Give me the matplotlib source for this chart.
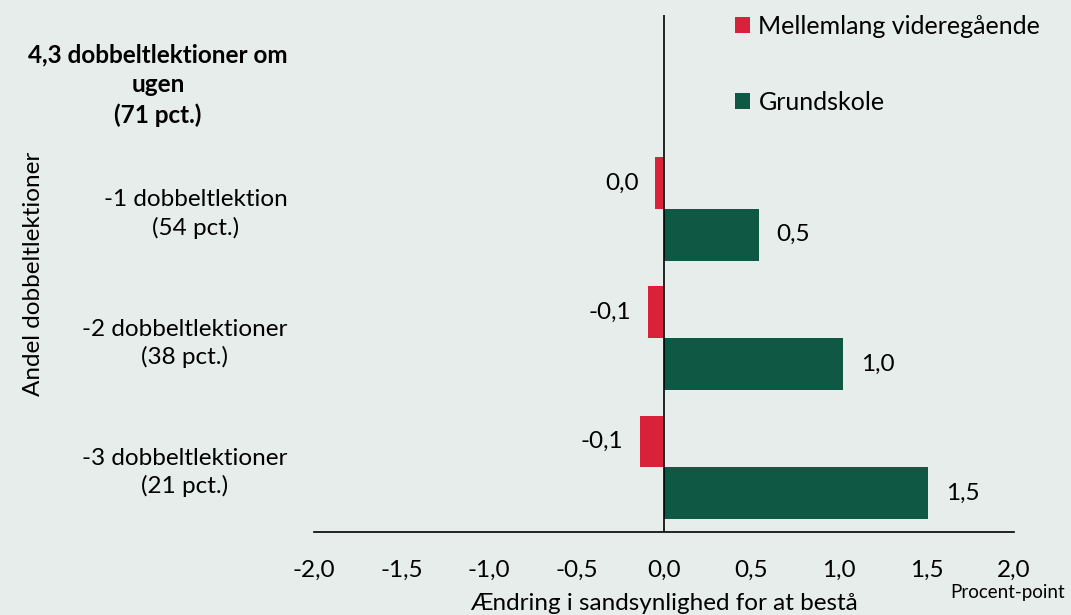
import numpy as np
import matplotlib

matplotlib.use("Agg")
import matplotlib.pyplot as plt
from matplotlib.patches import Patch

plt.rcParams["font.family"] = ["Lato", "DejaVu Sans"]

CATEGORIES = [
    "4,3 dobbeltlektioner om\nugen\n(71 pct.)",
    "-1 dobbeltlektion\n(54 pct.)",
    "-2 dobbeltlektioner\n(38 pct.)",
    "-3 dobbeltlektioner\n(21 pct.)",
]
SERIES = ["Mellemlang videregående", "Grundskole"]
MVU = [np.nan, -0.05, -0.09, -0.14]
GRUND = [np.nan, 0.54, 1.02, 1.51]
MVU_LABELS = ["", "0,0", "-0,1", "-0,1"]
GRUND_LABELS = ["", "0,5", "1,0", "1,5"]
XTICKS = [-2.0, -1.5, -1.0, -0.5, 0.0, 0.5, 1.0, 1.5, 2.0]

BG = "#e7edea"
RED = "#d9213a"
GREEN = "#0f5843"
FS = 17.5

fig = plt.figure(figsize=(10.71, 6.15), dpi=100, facecolor=BG)
ax = fig.add_axes([0.2932, 0.135, 0.6536, 0.8407], facecolor=BG)

y = np.arange(len(CATEGORIES))
h = 0.4
ax.barh(y - h / 2, MVU, height=h, color=RED)
ax.barh(y + h / 2, GRUND, height=h, color=GREEN)

for yi, v, lab in zip(y, MVU, MVU_LABELS):
    if lab:
        ax.annotate(lab, (v, yi - h / 2), xytext=(-12, 0), textcoords="offset points",
                    ha="right", va="center", fontsize=FS)
for yi, v, lab in zip(y, GRUND, GRUND_LABELS):
    if lab:
        ax.annotate(lab, (v, yi + h / 2), xytext=(13, 0), textcoords="offset points",
                    ha="left", va="center", fontsize=FS)

ax.set_xlim(-2, 2)
ax.set_ylim(len(CATEGORIES) - 0.5, -0.5)
ax.set_xticks(XTICKS)
ax.set_xticklabels([f"{t:.1f}".replace(".", ",") for t in XTICKS], fontsize=FS)
ax.set_yticks(y)
ax.set_yticklabels(CATEGORIES, fontsize=FS, multialignment="center", linespacing=1.35)
ax.get_yticklabels()[0].set_fontweight("bold")
ax.tick_params(axis="x", length=0, pad=20)
ax.tick_params(axis="y", length=0, pad=19)

for s in ["top", "right", "left"]:
    ax.spines[s].set_visible(False)
ax.spines["bottom"].set_linewidth(1.2)
ax.axvline(0, color="black", linewidth=1.2)

ax.set_xlabel("Ændring i sandsynlighed for at bestå", fontsize=FS, labelpad=9)
ax.set_ylabel("Andel dobbeltlektioner", fontsize=FS)
ax.yaxis.set_label_coords(-0.386, 0.5)
fig.text(0.941, 0.037, "Procent-point", fontsize=13.5, ha="center", va="center")

handles = [Patch(facecolor=RED), Patch(facecolor=GREEN)]
fig.legend(handles, SERIES, loc="upper left", bbox_to_anchor=(0.665, 1.012),
           frameon=False, fontsize=18, handlelength=0.6, handleheight=0.6,
           handletextpad=0.35, labelspacing=2.1)

fig.savefig("out.png", dpi=100, facecolor=BG)
